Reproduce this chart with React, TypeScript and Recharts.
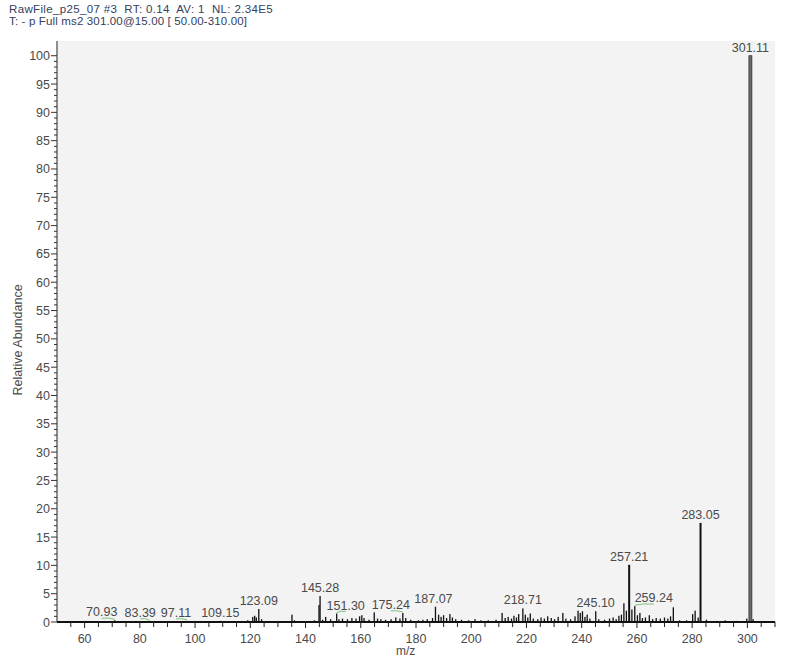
import React from "react";
import { BarChart, Bar, XAxis, YAxis, CartesianGrid } from "recharts";

// m/z of each centroid stick and its relative abundance (%)
const MZ = [
  56.2, 62.5, 70.93, 83.39, 97.11, 109.15, 119.1, 120.9, 121.6, 122.2, 123.09,
  124.1, 135.1, 136.0, 143.2, 144.9, 145.28, 146.2, 147.3, 149.1, 151.3, 152.1,
  153.4, 155.2, 156.8, 158.3, 159.6, 160.4, 161.2, 163.0, 164.9, 166.1, 167.3,
  169.0, 171.0, 172.7, 174.2, 175.24, 176.3, 178.1, 180.9, 182.5, 184.1, 186.0,
  187.07, 188.2, 189.1, 190.0, 191.1, 192.3, 193.2, 194.4, 196.5, 199.1, 201.4,
  203.5, 206.2, 209.0, 211.2, 212.3, 213.4, 214.6, 215.5, 216.4, 217.2, 218.71,
  219.6, 220.5, 221.4, 222.5, 224.1, 225.3, 226.5, 227.7, 229.0, 230.2, 231.5,
  233.2, 234.3, 236.0, 237.6, 238.7, 239.5, 240.3, 241.2, 242.0, 243.0, 245.1,
  246.2, 248.3, 250.1, 251.4, 252.5, 253.5, 254.4, 255.3, 256.2, 257.21, 258.2,
  259.24, 260.2, 261.1, 262.0, 263.1, 264.5, 265.7, 267.0, 268.5, 270.0, 271.2,
  272.2, 273.2, 275.5, 278.0, 280.2, 281.1, 282.2, 283.05, 285.2, 289.0, 292.0,
  296.0, 299.8, 301.11, 302.1, 304.0,
];
const ABUNDANCE = [
  0.1, 0.1, 0.3, 0.2, 0.2, 0.2, 0.3, 0.9, 1.1, 0.8, 2.3,
  0.5, 1.3, 0.3, 0.3, 3.0, 4.6, 0.4, 0.9, 0.5, 1.5, 0.5,
  0.6, 0.5, 0.7, 0.6, 1.0, 1.2, 0.7, 0.4, 1.7, 0.6, 0.5,
  0.4, 0.5, 0.8, 0.6, 1.6, 0.7, 0.4, 0.3, 0.4, 0.5, 0.7,
  2.7, 1.3, 0.9, 1.2, 0.7, 1.4, 0.8, 0.5, 0.4, 0.3, 0.5,
  0.3, 0.3, 0.4, 1.6, 0.7, 0.9, 0.6, 1.1, 0.8, 1.4, 2.4,
  1.3, 0.8, 1.5, 0.6, 0.5, 0.8, 0.6, 1.0, 0.7, 0.5, 0.9,
  1.6, 0.6, 0.5, 1.0, 2.0, 1.6, 1.9, 0.9, 1.3, 0.6, 1.9,
  0.5, 0.4, 0.6, 0.8, 0.5, 1.1, 1.3, 3.3, 2.0, 10.1, 2.2,
  2.8, 1.2, 1.6, 0.7, 0.8, 1.2, 0.5, 0.7, 0.6, 0.8, 0.6,
  1.0, 2.6, 0.3, 0.3, 1.4, 2.0, 0.8, 17.5, 0.4, 0.2, 0.3,
  0.2, 0.6, 100, 0.5, 0.1,
];
const ANNOTATED = [
  "70.93", "83.39", "97.11", "109.15", "123.09", "145.28", "151.30", "175.24",
  "187.07", "218.71", "245.10", "257.21", "259.24", "283.05", "301.11",
];
const X_LABELS = [60, 80, 100, 120, 140, 160, 180, 200, 220, 240, 260, 280, 300];
const Y_LABELS = [0, 5, 10, 15, 20, 25, 30, 35, 40, 45, 50, 55, 60, 65, 70, 75, 80, 85, 90, 95, 100];

// horizontal shift of annotations that sit beside their peak (px)
const LABEL_SHIFT: Record<string, number> = {
  "70.93": -13,
  "83.39": -9,
  "97.11": -11,
  "151.30": 9,
  "175.24": -12,
  "187.07": -2,
  "259.24": 19,
};

const data = MZ.map((mz, i) => ({
  mz,
  ab: ABUNDANCE[i],
  note: ANNOTATED.find((s) => Number(s) === mz) ?? null,
}));

const xMinor: number[] = [];
for (let v = 55; v <= 310; v += 5) xMinor.push(v);
const yMinor: number[] = [];
for (let v = 0; v <= 100; v += 1) yMinor.push(v);

const FONT = "'Liberation Sans', Arial, sans-serif";
const TXT = "#4a4a4a";

const XTick = (props: any) => {
  const { x, y, payload } = props;
  const v = payload.value;
  const major = X_LABELS.includes(v);
  return (
    <g>
      <line x1={x} y1={y} x2={x} y2={y + (major ? 6 : 5)} stroke="#222" strokeWidth={1} />
      {major && (
        <text x={x} y={y + 21} textAnchor="middle" fontSize={12.5} fontFamily={FONT} fill={TXT}>
          {v}
        </text>
      )}
    </g>
  );
};

const YTick = (props: any) => {
  const { x, y, payload } = props;
  const v = payload.value;
  const major = Y_LABELS.includes(v);
  return (
    <g>
      <line x1={x - (major ? 6 : 3)} y1={y} x2={x} y2={y} stroke="#333" strokeWidth={1} />
      {major && (
        <text x={x - 7} y={y + 4.5} textAnchor="end" fontSize={12.5} fontFamily={FONT} fill={TXT}>
          {v}
        </text>
      )}
    </g>
  );
};

const Stick = (props: any) => {
  const { x, y, width, height, payload } = props;
  const cx = x + width / 2;
  const ab = payload.ab;
  const w = ab > 50 ? 3 : ab > 8 ? 2 : 1.3;
  const note: string | null = payload.note;
  const shift = note ? LABEL_SHIFT[note] ?? 0 : 0;
  const base = y - 4;
  return (
    <g>
      <rect
        x={cx - w / 2}
        y={y}
        width={w}
        height={Math.max(height, 0.5)}
        fill={ab > 50 ? "#6a6a6a" : "#111"}
        stroke={ab > 50 ? "#2a2a2a" : "none"}
        strokeWidth={0.7}
      />
      {note && (
        <text x={cx + shift} y={base} textAnchor="middle" fontSize={12.5} fontFamily={FONT} fill={TXT}>
          {note}
        </text>
      )}
      {note && Math.abs(shift) > 5 && (
        <path
          d={`M${cx},${base + 3} Q${cx + shift / 2},${base + 1} ${cx + shift},${base + 2}`}
          stroke="#7cc47c"
          strokeWidth={1}
          fill="none"
        />
      )}
    </g>
  );
};

const headStyle: React.CSSProperties = {
  position: "absolute",
  left: 9,
  fontSize: 11.5,
  color: "#34405e",
  lineHeight: "12px",
  whiteSpace: "pre",
  letterSpacing: 0.35,
};

export default function App() {
  return (
    <div style={{ position: "absolute", left: 0, top: 0, width: 786, height: 659, background: "#fff", fontFamily: FONT }}>
      <div style={{ ...headStyle, top: 3 }}>{"RawFile_p25_07 #3  RT: 0.14  AV: 1  NL: 2.34E5"}</div>
      <div style={{ ...headStyle, top: 15, letterSpacing: 0.15 }}>{"T: - p Full ms2 301.00@15.00 [ 50.00-310.00]"}</div>
      <BarChart
        width={786}
        height={659}
        data={data}
        margin={{ top: 41, right: 11, bottom: 0, left: 0 }}
        barSize={2}
      >
        <CartesianGrid horizontal={false} vertical={false} fill="#f3f3f3" />
        <XAxis
          dataKey="mz"
          type="number"
          domain={[50, 310]}
          ticks={xMinor}
          interval={0}
          height={37}
          tickLine={false}
          tickSize={0}
          tickMargin={0}
          tick={<XTick />}
          axisLine={{ stroke: "#111", strokeWidth: 2 }}
          allowDataOverflow
        />
        <YAxis
          type="number"
          domain={[0, 102.6]}
          ticks={yMinor}
          interval={0}
          width={57}
          tickLine={false}
          tickSize={0}
          tickMargin={0}
          tick={<YTick />}
          axisLine={{ stroke: "#222", strokeWidth: 1 }}
          allowDataOverflow
        />
        <Bar dataKey="ab" shape={<Stick />} isAnimationActive={false} />
      </BarChart>
      <div
        style={{
          position: "absolute",
          left: 18,
          top: 340,
          transform: "translate(-50%, -50%) rotate(-90deg)",
          fontSize: 12.5,
          color: TXT,
          whiteSpace: "nowrap",
        }}
      >
        Relative Abundance
      </div>
      <div style={{ position: "absolute", left: 396, top: 644, fontSize: 12, color: TXT }}>m/z</div>
    </div>
  );
}
